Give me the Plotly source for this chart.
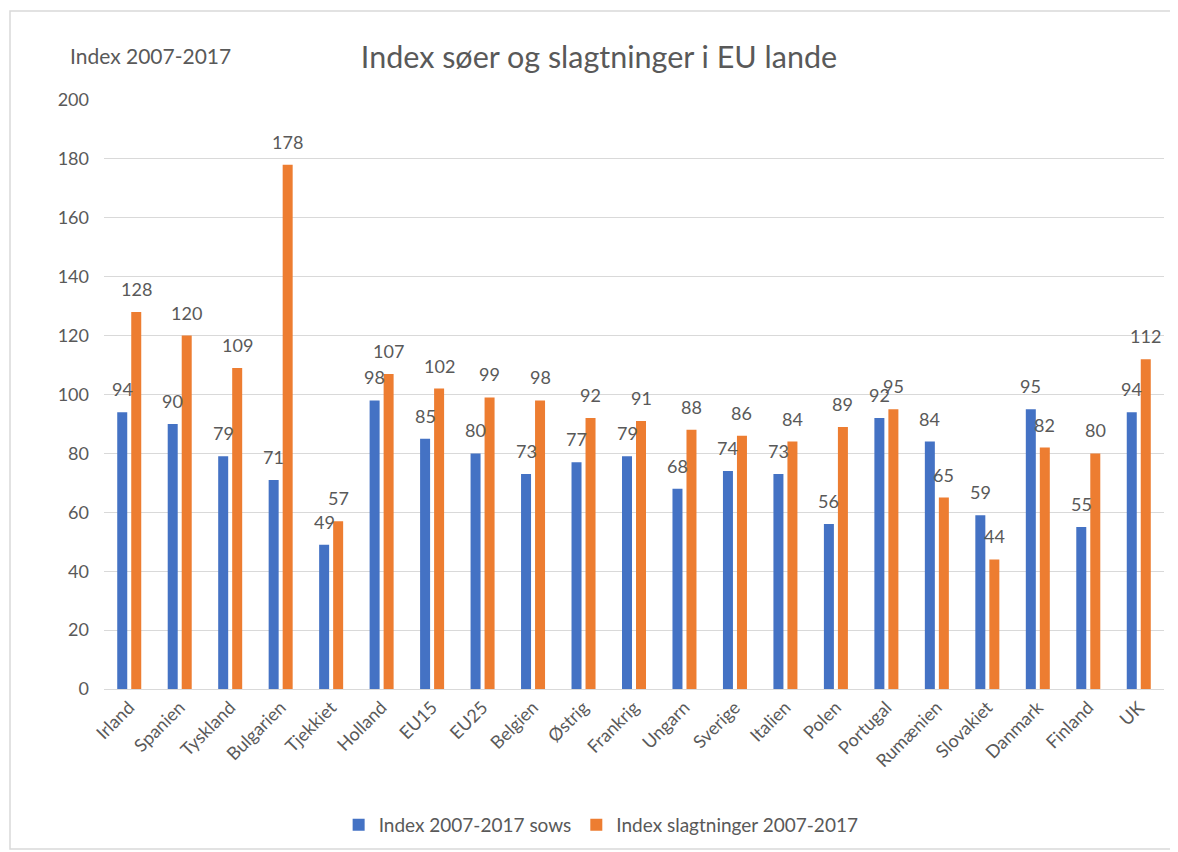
import plotly.graph_objects as go

categories = ["Irland", "Spanien", "Tyskland", "Bulgarien", "Tjekkiet", "Holland", "EU15", "EU25",
              "Belgien", "Østrig", "Frankrig", "Ungarn", "Sverige", "Italien", "Polen", "Portugal",
              "Rumænien", "Slovakiet", "Danmark", "Finland", "UK"]
sows = [94, 90, 79, 71, 49, 98, 85, 80, 73, 77, 79, 68, 74, 73, 56, 92, 84, 59, 95, 55, 94]
slagtninger = [128, 120, 109, 178, 57, 107, 102, 99, 98, 92, 91, 88, 86, 84, 89, 95, 65, 44, 82, 80, 112]
yticks = [0, 20, 40, 60, 80, 100, 120, 140, 160, 180, 200]

FONT = "Lato, 'Open Sans', sans-serif"
GREY = "#595959"

# the page body has an 8px margin, so the figure is drawn 8px smaller than the window
W, H = 1170, 844
PL, PR, PT, PB = 104, 1164, 100, 689  # plot area in page pixels
PW, PH = PR - PL, PB - PT

fig = go.Figure()
fig.add_trace(go.Bar(x=categories, y=sows, name="Index 2007-2017 sows",
                     marker_color="#4472C4", marker_line_width=0))
fig.add_trace(go.Bar(x=categories, y=slagtninger, name="Index slagtninger 2007-2017",
                     marker_color="#ED7D31", marker_line_width=0))

# data labels above each bar
for series, shift in ((sows, -7), (slagtninger, 7)):
    for c, v in zip(categories, series):
        fig.add_annotation(x=c, y=v, text=str(v), xref="x", yref="y", showarrow=False,
                           xshift=shift, yshift=10, yanchor="bottom", xanchor="center",
                           font=dict(size=18, color=GREY, family=FONT))

fig.update_layout(
    width=W, height=H,
    paper_bgcolor="white", plot_bgcolor="white",
    font=dict(family=FONT, color=GREY, size=18),
    margin=dict(l=PL - 8, r=W - (PR - 8), t=PT - 8, b=H - (PB - 8), autoexpand=False),
    barmode="group", bargap=0.445, bargroupgap=0.286,
    title=dict(text="Index søer og slagtninger i EU lande", x=591 / W, xanchor="center",
               y=1 - 49 / H, yref="container", yanchor="middle",
               font=dict(size=30.5, color=GREY, family=FONT)),
    legend=dict(orientation="h", x=0.469, xanchor="center", yref="container",
                y=(H - 817) / H, yanchor="middle",
                font=dict(size=19, color=GREY, family=FONT)),
    showlegend=True,
)
fig.update_xaxes(tickangle=-45, tickfont=dict(size=18, color=GREY), showline=True,
                 linecolor="#D9D9D9", linewidth=1, ticks="", automargin=False)
fig.update_yaxes(range=[0, 200], tickvals=yticks, showgrid=True, gridcolor="#D9D9D9",
                 gridwidth=1, zeroline=False, tickfont=dict(size=18, color=GREY),
                 ticklabelstandoff=14, automargin=False)
fig.add_annotation(text="Index 2007-2017", xref="paper", yref="paper", x=(68 - PL) / PW,
                   y=(PB - 55) / PH, xanchor="left", yanchor="middle", showarrow=False,
                   font=dict(size=21, color=GREY, family=FONT))
fig.add_shape(type="rect", xref="paper", yref="paper",
              x0=(10 - PL) / PW, x1=(1190 - PL) / PW,
              y0=(PB - 849) / PH, y1=(PB - 11) / PH,
              line=dict(color="#D9D9D9", width=1.5), fillcolor="rgba(0,0,0,0)")

fig.write_html("out.html")
